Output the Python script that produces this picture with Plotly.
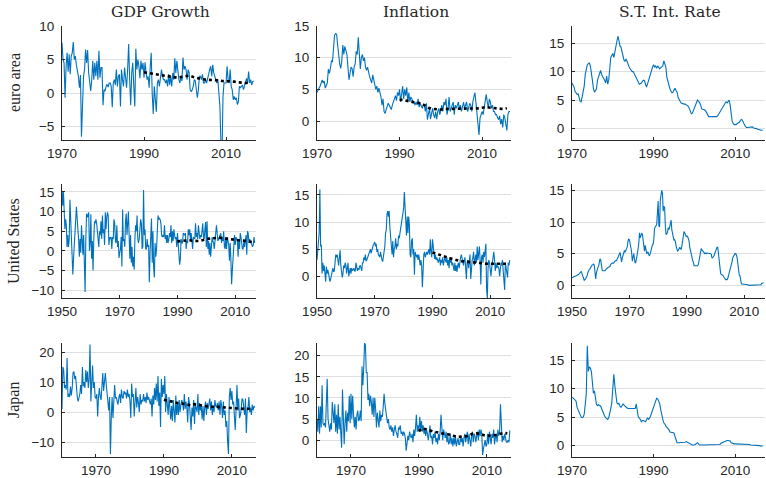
import numpy as np
import plotly.graph_objects as go

# ---------------- data (quarterly) ----------------
EA_START = 1970
EA_GDP = [
 7.5, 5.0, 4.5, -0.7,  4.0, 6.0, 3.2, 5.8,  2.8, 5.5, 6.0, 7.6,  5.0, 5.5, 4.2, 3.5,  2.5, 0.8, 2.7, -6.5,
 -0.5, 2.5, 3.5, 6.5,  4.5, 6.4, 3.0, 1.0,  0.3, 2.0, 4.8, 2.0,  4.5, 2.5, 4.8, 2.0,  6.3, 2.3, 3.8, 3.8,
 -1.8, 0.5, 0.3, 1.0,  1.3, 0.9, 1.5, 1.5,  1.0, -2.1, 1.5, 2.0,  1.2, 3.5, 1.0, 2.5,  2.8, -2.0, 3.5, 2.0,
 1.0, 3.8, 2.5, 0.8,  3.5, 7.3, 2.0, -1.8,  3.0, 4.5, 1.0, -2.0,  6.6, 3.5, 5.0, 4.0,  2.2, 4.8, 3.5, 4.5,
 2.3, 4.6, 3.0, 2.0,  2.5, 0.8, 3.8, 6.0,  -0.2, -3.1, 1.0, -1.0,  -2.8, 1.5, 2.0, 1.0,  2.7, 3.5, 2.5, 2.0,
 2.0, 1.5, 2.0, 1.0,  2.8, 1.2, 2.5, 1.0,  3.0, 2.0, 5.2, 3.0,  4.8, 3.0, 2.0, 1.5,  2.5, 1.8, 5.3, 3.5,
 4.0, 3.5, 2.0, 3.5,  3.0, 0.5, 0.2, 0.5,  1.0, 2.0, 1.8, 0.5,  -0.7, 0.5, 2.5, 2.5,  2.0, 2.8, 1.5, 1.5,
 2.0, 1.5, 2.5, 2.8,  3.5, 4.0, 2.5, 4.2,  3.0, 2.5, 2.0, 1.5,  2.0, -1.0, -2.0, -7.5,  -10.0, -0.5, 1.5, 1.5,
 1.5, 4.0, 2.0, 1.5,  3.5, 1.0, 0.5, -1.0,  -0.5, -1.0, -0.7, -1.7,  -1.3, 1.0, 0.8, 1.0,  1.2, 0.5, 1.0, 1.5,
 2.2, 1.5, 3.2, 1.5,  2.0, 1.2, 1.7, 1.8,
]
EA_INF = [
 4.5, 5.0, 5.2, 5.5,  6.0, 6.5, 6.0, 6.3,  5.2, 5.8, 6.0, 8.2,  7.5, 8.3, 9.5, 9.4,  11.0, 13.5, 13.8, 13.7,
 12.0, 10.0, 9.0, 8.3,  9.5, 12.0, 10.5, 11.8,  10.8, 10.5, 8.5, 6.5,  7.5, 8.5, 8.3, 7.0,  8.5, 9.0, 11.0, 10.5,
 13.2, 11.0, 8.2, 10.0,  10.5, 9.5, 10.0, 8.5,  8.0, 8.5, 7.5, 7.0,  6.5, 6.0, 7.3, 6.5,  6.0, 5.0, 5.5, 4.5,
 5.2, 4.5, 3.8, 2.5,  3.5, 1.5, 1.2, 1.8,  2.2, 2.8, 2.5, 2.0,  1.8, 2.5, 3.0, 3.5,  4.0, 3.2, 4.5, 4.0,
 5.0, 3.0, 4.5, 5.5,  3.5, 5.0, 4.0, 5.3,  3.0, 4.5, 3.0, 3.8,  3.5, 2.8, 3.0, 2.5,  3.0, 2.5, 3.5, 2.2,
 2.8, 2.5, 2.0, 2.5,  2.5, 1.5, 2.8, 0.2,  1.5, 2.0, 0.3, 1.5,  2.0, 1.0, 0.5, 1.5,  0.3, 1.5, 2.0, 1.0,
 2.0, 2.5, 1.5, 3.0,  2.5, 3.5, 1.0, 2.0,  3.8, 1.5, 2.0, 2.5,  3.0, 1.0, 2.5, 2.0,  2.5, 3.0, 1.8, 2.5,
 1.5, 2.5, 3.0, 2.0,  2.5, 3.0, 1.5, 2.0,  2.8, 2.5, 1.5, 3.0,  4.0, 4.5, 3.0, 1.0,  -1.0, -2.2, 0.5, 1.0,
 1.5, 1.0, 2.0, 2.5,  4.2, 3.0, 2.0, 3.5,  3.0, 2.0, 2.5, 1.5,  1.5, 1.0, 1.0, 0.5,  0.2, 0.8, -0.5, 0.3,
 -1.0, 1.0, 0.5, -0.5,  -1.5, 1.0, 1.5, 1.5,
]
EA_RATE = [
 8.0, 7.7, 7.3, 6.5,  6.2, 6.0, 6.1, 5.2,  4.8, 4.7, 5.5, 6.5,  7.5, 9.5, 10.5, 11.2,  11.4, 11.5, 11.0, 10.0,
 8.5, 7.0, 6.4, 6.7,  7.0, 8.5, 9.2, 9.5,  10.2, 9.5, 9.2, 9.0,  8.5, 8.0, 9.2, 7.8,  8.5, 10.5, 12.5, 12.8,
 13.2, 12.5, 13.5, 13.8,  15.0, 16.2, 15.5, 14.5,  14.3, 13.5, 12.8, 12.0,  11.8, 12.2, 11.8, 11.2,  10.8, 10.5, 10.2, 10.0,
 10.0, 9.6, 9.2, 8.7,  8.5, 8.1, 7.8, 7.9,  8.0, 8.3, 8.5, 8.4,  7.6, 7.3, 7.8, 8.5,  9.0, 9.5, 10.2, 10.8,
 11.2, 10.8, 11.0, 10.6,  11.0, 10.6, 10.5, 10.7,  10.8, 11.0, 11.9, 11.5,  10.8, 9.0, 8.2, 7.5,  7.0, 6.6, 6.3, 6.4,
 6.8, 7.1, 6.7, 6.4,  5.5, 5.0, 4.8, 4.5,  4.4, 4.4, 4.3, 4.3,  4.2, 4.1, 3.9, 3.5,  3.0, 2.6, 2.7, 3.2,
 3.6, 4.2, 4.7, 5.0,  4.8, 4.6, 4.2, 3.5,  3.4, 3.4, 3.3, 3.1,  2.7, 2.4, 2.1, 2.1,  2.1, 2.1, 2.1, 2.2,
 2.1, 2.1, 2.1, 2.3,  2.6, 2.9, 3.2, 3.6,  3.8, 4.1, 4.4, 4.7,  4.5, 4.9, 5.0, 4.2,  2.0, 1.3, 0.9, 0.7,
 0.7, 0.7, 0.9, 1.0,  1.1, 1.4, 1.6, 1.5,  1.0, 0.7, 0.4, 0.2,  0.2, 0.2, 0.2, 0.2,  0.3, 0.3, 0.1, 0.1,
 0.0, 0.0, -0.1, -0.1,  -0.2, -0.3, -0.3, -0.3,
]

US_START = 1950
US_GDP = [
 15.0, 11.5, 15.2, 9.0,  5.5, 8.0, 6.5, 1.0,  4.0, 1.0, 3.0, 13.0,  7.5, 3.0, -1.5, -6.0,  -2.0, 0.5, 4.5, 8.0,
 11.2, 6.5, 5.5, 3.0,  -1.5, 3.0, -0.5, 6.5,  3.5, -1.0, 4.0, -4.0,  -10.5, 3.0, 9.5, 8.5,  9.0, 9.8, 0.0, 2.0,
 9.3, -2.0, 2.5, -5.0,  2.5, 7.5, 7.0, 8.0,  7.0, 4.0, 3.5, 1.0,  5.0, 4.0, 7.5, 3.0,  9.0, 4.5, 5.5, 1.5,
 9.8, 5.5, 8.5, 9.8,  9.0, 1.5, 3.5, 3.0,  3.5, 0.5, 3.5, 3.0,  8.0, 7.0, 2.5, 2.0,  6.5, 1.0, 2.5, -1.8,
 -0.5, 0.5, 3.5, -4.0,  10.5, 2.5, 3.0, 1.0,  7.5, 9.5, 4.0, 7.0,  10.0, 4.0, -2.0, 4.0,  -3.0, 1.0, -4.0, -1.5,
 -4.8, 3.0, 6.5, 5.0,  9.0, 3.0, 2.0, 3.0,  5.0, 8.0, 7.0, 0.5,  1.0, 15.5, 4.0, 5.5,  0.5, 0.5, 3.0, 1.0,
 1.5, -8.0, -0.5, 7.5,  8.2, -3.0, 5.0, -4.5,  -6.8, 2.0, -1.5, 0.5,  5.0, 9.0, 8.0, 8.3,  8.0, 7.0, 4.0, 3.5,
 4.0, 3.5, 6.5, 3.0,  4.0, 2.0, 4.0, 2.0,  3.0, 4.5, 3.5, 6.5,  2.0, 5.0, 2.5, 5.5,  4.0, 3.0, 3.5, 1.0,
 4.5, 1.5, 0.0, -3.5,  -2.0, 3.0, 2.0, 2.0,  4.5, 4.0, 4.0, 4.5,  0.5, 2.5, 2.0, 5.5,  4.0, 5.5, 2.5, 4.5,
 1.0, 0.5, 3.5, 3.0,  3.0, 7.0, 3.5, 4.5,  3.0, 6.5, 5.0, 3.0,  4.0, 3.5, 5.0, 7.0,  3.5, 3.0, 5.5, 7.3,
 1.0, 7.5, 0.5, 2.5,  -1.0, 2.0, -1.5, 1.0,  3.5, 2.5, 2.0, 0.5,  2.0, 3.5, 6.5, 4.5,  2.5, 3.0, 3.5, 3.5,
 4.5, 2.0, 3.5, 2.5,  5.0, 1.0, 0.5, 3.5,  0.5, 3.5, 2.5, 1.5,  -2.5, 2.0, -2.0, -8.5,  -5.0, -0.5, 1.5, 4.0,
 1.5, 3.5, 3.0, 2.5,  -1.5, 3.0, 0.5, 4.5,  3.5, 1.5, 0.5, 0.5,  2.5, 1.0, 3.0, 4.0,  -1.0, 5.0, 4.5, 2.0,
 3.0, 2.5, 2.0, 1.0,  1.0, 1.5, 3.5, 2.0,
]
US_INF = [
 3.0, 5.0, 7.5, 8.0,  16.0, 5.5, 5.8, 0.5,  2.5, 1.0, 2.0, 0.5,  -1.0, 1.8, 0.5, 1.2,  0.5, 0.0, -1.0, -0.5,
 0.0, 0.5, 1.5, 0.8,  1.0, 2.5, 4.0, 3.5,  4.0, 3.0, 2.0, 3.5,  4.8, 2.0, 1.0, -0.2,  0.5, 2.0, 1.5, 2.5,
 2.0, 0.5, 1.5, 2.5,  0.0, 1.0, 1.5, 0.5,  1.5, 1.0, 1.2, 1.5,  1.0, 1.0, 2.5, 1.5,  1.0, 1.5, 1.2, 1.8,
 2.0, 1.5, 1.0, 2.5,  2.5, 3.5, 3.0, 4.0,  2.8, 3.0, 3.5, 4.0,  4.0, 4.5, 5.0, 4.2,  5.0, 5.5, 5.8, 6.0,
 6.3, 5.5, 6.0, 4.5,  5.0, 4.0, 3.5, 3.5,  4.5, 3.5, 3.0, 2.7,  3.5, 4.5, 5.5, 8.0,  8.5, 11.5, 12.0, 11.0,
 12.0, 9.0, 6.5, 5.5,  4.0, 6.5, 3.5, 5.0,  5.5, 7.0, 5.0, 6.0,  5.5, 7.5, 7.0, 8.0,  9.0, 9.5, 11.5, 12.5,
 12.5, 15.5, 12.0, 10.0,  7.5, 11.0, 8.0, 11.0,  9.5, 4.0, 3.5, 6.5,  7.0, 4.0, 5.0, 0.3,  4.5, 4.0, 3.5, 4.0,
 3.0, 4.0, 2.5, 2.0,  3.0, 2.0, -2.0, 2.5,  4.0, 4.5, 3.5, 4.0,  4.5, 4.0, 4.5, 5.0,  4.0, 6.8, 4.5, 3.5,
 6.8, 5.0, 5.0, 3.2,  4.0, 3.0, 3.5, 2.5,  2.5, 3.0, 3.5, 2.0,  3.0, 2.5, 3.5, 2.0,  2.5, 3.5, 3.0, 2.5,
 3.5, 2.0, 3.0, 1.5,  3.5, 2.5, 3.0, 2.0,  2.5, 2.0, 1.0, 2.5,  1.0, 2.0, 0.8, 2.0,  2.5, 1.5, 3.0, 3.5,
 4.0, 3.5, 2.5, 2.0,  3.0, 3.5, 1.5, -0.5,  2.5, 3.0, 1.5, 3.0,  4.0, -0.5, 2.5, 3.0,  3.5, 4.5, 2.0, 3.5,
 4.0, 2.5, 5.5, 3.0,  4.5, 5.5, 3.0, -1.5,  3.5, 4.0, 2.5, 4.5,  3.5, 5.0, 6.0, -2.5,  -4.0, 1.5, 3.0, 2.5,
 1.5, 0.0, 1.5, 3.0,  4.0, 4.5, 3.0, 1.0,  2.5, 1.5, 2.0, 1.5,  1.5, 0.0, 2.0, 2.5,  2.0, 3.0, 1.0, -0.5,
 -2.5, 2.5, 1.5, 0.5,  -0.2, 2.5, 2.0, 3.0,
]
US_RATE = [
 1.2, 1.2, 1.3, 1.4,  1.4, 1.5, 1.5, 1.6,  1.6, 1.7, 1.8, 1.9,  2.0, 2.2, 1.8, 1.4,  1.0, 0.8, 0.9, 1.0,
 1.3, 1.5, 2.0, 2.4,  2.5, 2.6, 2.8, 3.1,  3.2, 3.2, 3.4, 3.2,  1.6, 1.0, 2.0, 2.7,  2.8, 3.0, 3.5, 4.2,
 4.0, 3.0, 2.4, 2.3,  2.3, 2.3, 2.3, 2.5,  2.7, 2.7, 2.8, 2.9,  2.9, 3.0, 3.3, 3.5,  3.5, 3.5, 3.5, 3.7,
 3.9, 3.9, 3.9, 4.2,  4.6, 4.6, 5.0, 5.2,  4.5, 3.7, 4.3, 4.8,  5.0, 5.5, 5.2, 5.5,  6.0, 6.1, 7.0, 7.3,
 7.2, 6.6, 6.2, 5.3,  3.8, 4.2, 5.0, 4.2,  3.5, 3.7, 4.2, 4.9,  5.7, 6.6, 8.3, 7.5,  8.0, 8.2, 8.1, 7.3,
 5.9, 5.4, 6.3, 5.6,  5.0, 5.2, 5.2, 4.8,  4.7, 5.0, 5.5, 6.2,  6.4, 6.5, 7.3, 9.0,  9.4, 9.4, 9.6, 11.8,
 13.3, 9.4, 9.2, 13.5,  14.2, 15.0, 14.5, 11.7,  12.5, 12.3, 9.4, 8.0,  8.1, 8.4, 9.1, 8.8,  9.2, 9.8, 10.3, 8.8,
 8.2, 7.5, 7.1, 7.2,  6.9, 6.2, 5.6, 5.4,  5.5, 5.7, 6.0, 5.8,  5.7, 6.2, 7.0, 7.6,  8.5, 8.3, 7.8, 7.7,
 7.8, 7.7, 7.4, 7.0,  6.0, 5.6, 5.3, 4.5,  3.9, 3.7, 3.1, 3.1,  3.0, 3.0, 3.0, 3.1,  3.3, 4.0, 4.5, 5.3,
 5.8, 5.6, 5.4, 5.3,  5.0, 5.0, 5.1, 5.0,  5.1, 5.1, 5.1, 5.1,  5.1, 5.0, 4.9, 4.3,  4.4, 4.5, 4.7, 5.1,
 5.5, 5.7, 6.0, 6.0,  4.9, 3.7, 3.2, 1.9,  1.7, 1.7, 1.6, 1.4,  1.2, 1.1, 0.9, 0.9,  0.9, 1.1, 1.5, 2.0,
 2.5, 2.9, 3.4, 3.8,  4.4, 4.7, 4.9, 5.0,  5.0, 4.8, 4.3, 3.4,  2.0, 1.6, 1.5, 0.3,  0.2, 0.2, 0.2, 0.1,
 0.1, 0.1, 0.2, 0.1,  0.1, 0.1, 0.0, 0.0,  0.1, 0.1, 0.1, 0.1,  0.1, 0.1, 0.0, 0.1,  0.0, 0.0, 0.0, 0.0,
 0.0, 0.0, 0.0, 0.1,  0.3, 0.3, 0.3, 0.4,
]

JP_START = 1960
JP_RATE_START = 1970
JP_GDP = [
 1.0, 15.0, 14.0, 8.0,  9.0, 7.5, 18.0, 5.0,  6.0, 5.0, 8.5, 5.5,  8.0, 13.0, 13.5, 11.0,  12.0, 7.0, 5.0, 3.5,
 4.5, 6.0, 9.0, 6.0,  15.0, 8.5, 10.0, 8.0,  14.0, 10.0, 13.5, 8.0,  11.0, 22.5, 3.5, 11.5,  15.5, 8.0, 10.0, 5.0,
 4.5, 6.0, -1.5, 5.0,  8.0, 5.0, 4.0, 8.5,  13.0, 7.0, 10.0, 13.0,  9.5, 7.0, 4.0, 0.5,  5.0, -14.0, -2.0, 5.0,
 -2.0, 3.0, 9.0, 4.5,  5.0, 3.5, 2.5, 5.0,  6.0, 3.0, 7.5, 5.0,  4.5, 7.0, 6.0, 6.5,  4.5, 7.5, 5.0, 6.0,
 3.5, -2.0, 9.5, 5.0,  6.0, -1.5, 5.5, 8.0,  1.5, 5.0, 3.0, 0.0,  6.0, 2.5, 4.0, 3.5,  6.0, 3.5, 5.0, 3.0,
 6.5, 4.0, 5.0, 3.0,  2.5, 4.5, -1.5, 5.5,  2.5, 8.0, 4.0, 9.5,  3.5, 12.0, 2.0, 6.5,  -5.0, 11.0, 5.0, 9.0,
 6.0, 12.0, 0.0, 6.0,  2.0, -1.0, 5.0, 2.0,  -2.5, 2.0, -3.0, 4.0,  0.5, -3.5, 5.5, -1.0,  3.0, -1.0, 4.0, 0.0,
 2.5, 4.0, 3.0, 0.5,  6.0, 1.0, 3.5, 1.5,  -3.5, 5.0, 3.0, -4.0,  -6.0, 1.5, -1.5, 4.0,  -4.0, 2.5, 1.0, 0.0,
 6.0, -1.0, 3.0, 0.5,  2.0, -2.5, 2.0, -3.0,  1.5, 3.5, -1.0, 3.0,  1.0, 2.5, 4.5, 0.5,  3.5, -1.0, 2.0, 0.0,
 4.0, 2.0, 1.5, 3.0,  0.5, 3.5, -1.0, 4.0,  2.0, -2.0, 3.5, -1.0,  0.5, -5.0, -3.0, -10.0,  -14.0, 5.0, 8.0, 4.0,
 7.0, 2.5, 3.5, -1.5,  -6.0, 1.5, 9.0, 0.5,  4.5, -2.0, -1.0, 1.0,  4.5, 4.0, 1.5, -1.0,  4.5, -7.0, 0.5, 1.5,
 5.0, 0.0, 1.5, -1.0,  2.5, 0.5, 2.0, 1.5,
]
JP_INF = [
 5.0, 2.0, 8.0, 1.5,  8.0, 3.0, 13.0, 4.0,  3.5, 4.0, 3.0, 7.0,  14.5, 5.0, 3.0, 2.0,  4.0, 2.5, 9.0, 5.0,
 4.0, 8.5, 2.0, 6.0,  1.5, 8.5, 2.5, 5.5,  1.0, -1.8, 12.0, 6.0,  -1.0, 4.0, 7.0, 2.0,  6.5, 4.5, 10.5, 4.0,
 11.0, 5.0, 10.5, 6.0,  3.0, 5.5, 2.5, 6.0,  7.0, 4.5, 5.0, 7.0,  4.5, 17.5, 13.0, 17.0,  23.0, 22.5, 16.0, 16.0,
 9.5, 11.0, 8.0, 10.5,  9.0, 6.0, 10.0, 5.5,  10.0, 7.5, 3.0, 6.5,  5.0, 3.0, 7.0, 4.5,  6.0, 5.5, 8.0, 11.0,
 8.5, 6.0, 5.5, 4.0,  5.0, 3.0, 2.5, 3.5,  2.0, 3.0, 1.0, 2.5,  3.5, 2.0, 1.5, 0.5,  3.0, 2.5, 3.5, 1.5,
 2.0, 1.0, 2.0, 1.5,  0.5, -2.5, 0.5, 1.0,  0.0, 2.0, 1.0, 0.5,  1.5, -0.5, 2.5, 1.0,  3.0, 6.0, 2.0, 3.5,
 2.0, 5.5, 2.5, 4.5,  2.0, 3.5, 1.5, 2.5,  1.0, 2.5, 1.5, 0.0,  1.5, 3.5, 0.5, 1.0,  -1.0, 1.5, 0.5, 2.0,
 -0.5, 0.5, -1.0, 1.5,  0.0, 2.0, 6.0, 1.0,  0.0, 2.5, 1.5, 0.5,  2.0, -0.5, 1.0, -1.0,  -0.5, 1.5, -1.0, 0.5,
 -1.5, 0.5, -1.0, 1.0,  -1.5, 0.0, 0.5, -1.0,  -1.0, 1.0, -0.5, 0.5,  -1.5, 0.5, 1.5, -0.5,  0.5, 2.0, -1.0, 1.5,
 0.0, -1.5, 1.0, 2.0,  -0.5, 1.5, 1.0, -0.5,  1.0, 2.0, 0.0, 2.5,  1.0, 2.5, 1.5, -3.5,  -2.0, -1.0, 0.0, -1.5,
 -1.0, 1.5, -1.0, 2.0,  0.5, -1.0, 1.5, 0.5,  2.5, -1.0, 0.5, 1.5,  -0.5, 2.5, 1.0, 2.0,  8.5, 1.0, -0.5, 1.0,
 0.0, 1.5, 0.5, -0.5,  -0.5, 0.0, -0.5, 2.3,
]
JP_RATE = [
 8.5, 8.4, 8.2, 8.0,  7.8, 6.7, 6.2, 5.8,  5.2, 5.0, 4.9, 5.0,  5.5, 7.0, 9.0, 17.5,  13.0, 13.8, 13.6, 13.0,
 11.0, 9.2, 9.6, 8.5,  7.2, 7.0, 7.2, 7.0,  7.0, 6.5, 6.0, 5.5,  5.2, 4.9, 4.7, 4.6,  4.9, 5.5, 6.5, 7.5,
 10.5, 12.5, 10.5, 9.0,  7.5, 7.3, 7.4, 6.9,  6.7, 7.0, 7.3, 7.1,  6.9, 6.8, 6.6, 6.5,  6.5, 6.5, 6.4, 6.4,
 6.4, 6.4, 6.5, 7.3,  6.0, 5.0, 4.8, 4.6,  4.2, 4.4, 4.4, 4.3,  4.2, 4.5, 4.9, 4.6,  4.8, 5.2, 5.8, 6.4,
 7.0, 7.4, 7.8, 8.3,  8.2, 7.8, 7.3, 6.3,  5.0, 4.6, 4.0, 3.8,  3.4, 3.2, 3.0, 2.8,  2.4, 2.3, 2.3, 2.3,
 2.2, 1.6, 0.8, 0.5,  0.5, 0.5, 0.5, 0.5,  0.5, 0.5, 0.6, 0.6,  0.7, 0.6, 0.5, 0.3,  0.2, 0.1, 0.1, 0.1,
 0.1, 0.2, 0.4, 0.5,  0.3, 0.1, 0.1, 0.1,  0.1, 0.1, 0.1, 0.1,  0.1, 0.1, 0.1, 0.1,  0.1, 0.1, 0.1, 0.1,
 0.1, 0.1, 0.1, 0.1,  0.1, 0.2, 0.4, 0.5,  0.6, 0.7, 0.8, 0.9,  0.9, 0.9, 0.9, 0.8,  0.5, 0.4, 0.3, 0.3,
 0.3, 0.3, 0.2, 0.2,  0.2, 0.2, 0.2, 0.2,  0.2, 0.2, 0.2, 0.2,  0.2, 0.2, 0.2, 0.1,  0.1, 0.1, 0.1, 0.1,
 0.1, 0.1, 0.1, 0.1,  0.0, -0.05, -0.1, -0.1,
]

# trend (annual, 1990-2016)
TREND_YEARS = list(range(1990, 2017))
EA_GDP_TREND = [3.1, 3.0, 2.9, 2.8, 2.7, 2.6, 2.5, 2.4, 2.3, 2.4, 2.5, 2.6, 2.4, 2.2, 2.1, 2.0, 2.0, 1.9, 1.9,
                1.8, 1.8, 1.7, 1.7, 1.6, 1.5, 1.5, 1.6]
EA_INF_TREND = [3.4, 3.3, 3.2, 3.1, 3.0, 2.8, 2.5, 2.1, 1.9, 1.8, 1.8, 1.9, 1.9, 1.9, 1.9, 1.9, 1.9, 1.9, 2.0,
                2.0, 2.1, 2.2, 2.1, 2.0, 2.0, 1.9, 2.0]
US_GDP_TREND = [2.4, 2.5, 2.6, 2.7, 2.7, 2.6, 2.5, 2.5, 2.6, 2.8, 3.0, 3.1, 3.2, 3.3, 3.3, 3.3, 3.2, 3.0, 2.9,
                2.8, 2.7, 2.7, 2.6, 2.6, 2.5, 2.3, 2.2]
US_INF_TREND = [4.4, 4.2, 4.0, 3.8, 3.7, 3.5, 3.3, 3.2, 3.0, 2.9, 2.8, 2.8, 2.7, 2.6, 2.6, 2.5, 2.5, 2.4, 2.3,
                2.3, 2.3, 2.3, 2.3, 2.3, 2.3, 2.3, 2.3]
JP_GDP_TREND = [4.1, 3.8, 3.5, 3.2, 3.0, 2.9, 2.6, 2.3, 2.2, 2.6, 2.4, 2.0, 1.9, 1.8, 1.8, 1.8, 1.7, 1.6, 1.5,
                1.4, 1.3, 1.2, 1.1, 1.0, 1.0, 1.1, 1.4]
JP_INF_TREND = [2.1, 2.8, 2.6, 2.3, 2.1, 1.9, 1.7, 1.5, 1.4, 1.3, 1.0, 0.8, 0.8, 0.8, 0.9, 1.2, 1.6, 1.6, 1.5,
                1.2, 1.0, 1.1, 1.1, 1.2, 1.5, 1.7, 1.6]

COL_TITLES = ["GDP Growth", "Inflation", "S.T. Int. Rate"]
ROW_LABELS = ["euro area", "United States", "Japan"]

# ---------------- figure ----------------
W, H = 766, 478
BLUE = "#0072BD"
AX = "#262626"
GRID = "#dfdfdf"
TICKFONT = dict(family="Liberation Sans, Arial, sans-serif", size=13.5, color=AX)


def px_x(p):
    return p / W


def px_y(p):
    return 1 - p / H


col_px = [(62, 256), (317, 511), (572, 765)]
row_px = [(26, 140), (184, 298), (343, 457)]

panels = [
    # row, col, values, start, trend, xrange, yrange, yticks, xticks
    (0, 0, EA_GDP, EA_START, EA_GDP_TREND, [1970, 2017.3], [-7, 10], [-5, 0, 5, 10], [1970, 1990, 2010]),
    (0, 1, EA_INF, EA_START, EA_INF_TREND, [1970, 2017.0], [-3, 15], [0, 5, 10, 15], [1970, 1990, 2010]),
    (0, 2, EA_RATE, EA_START, None, [1970, 2017.3], [-2, 18], [0, 5, 10, 15], [1970, 1990, 2010]),
    (1, 0, US_GDP, US_START, US_GDP_TREND, [1950, 2017.2], [-12, 17], [-10, -5, 0, 5, 10, 15], [1950, 1970, 1990, 2010]),
    (1, 1, US_INF, US_START, US_INF_TREND, [1950, 2017.2], [-4, 17], [0, 5, 10, 15], [1950, 1970, 1990, 2010]),
    (1, 2, US_RATE, US_START, None, [1950, 2017.2], [-2, 16], [0, 5, 10, 15], [1950, 1970, 1990, 2010]),
    (2, 0, JP_GDP, JP_START, JP_GDP_TREND, [1960, 2017.1], [-15, 23], [-10, 0, 10, 20], [1970, 1990, 2010]),
    (2, 1, JP_INF, JP_START, JP_INF_TREND, [1960, 2017.1], [-4, 23], [0, 5, 10, 15, 20], [1970, 1990, 2010]),
    (2, 2, JP_RATE, JP_RATE_START, None, [1970, 2017.3], [-2, 18], [0, 5, 10, 15], [1970, 1990, 2010]),
]

fig = go.Figure()
layout = {}
for k, (r, c, vals, start, trend, xr, yr, yt, xt) in enumerate(panels, start=1):
    xa = "x" if k == 1 else f"x{k}"
    ya = "y" if k == 1 else f"y{k}"
    xs = start + 0.25 * np.arange(len(vals))
    fig.add_trace(go.Scatter(x=xs, y=vals, mode="lines", xaxis=xa, yaxis=ya,
                             line=dict(color=BLUE, width=1.1), showlegend=False, hoverinfo="skip"))
    if trend is not None:
        fig.add_trace(go.Scatter(x=TREND_YEARS, y=trend, mode="lines", xaxis=xa, yaxis=ya,
                                 line=dict(color="black", width=2.6, dash="dot"),
                                 showlegend=False, hoverinfo="skip"))
    x0, x1 = col_px[c]
    t, b = row_px[r]
    common = dict(showline=True, linecolor=AX, linewidth=1, ticks="inside", ticklen=3,
                  tickcolor=AX, tickfont=TICKFONT, zeroline=False, automargin=False)
    layout["xaxis" if k == 1 else f"xaxis{k}"] = dict(
        domain=[px_x(x0), min(1.0, px_x(x1))], anchor=ya, range=xr, tickvals=xt, showgrid=False,
        ticklabelstandoff=1, **common)
    layout["yaxis" if k == 1 else f"yaxis{k}"] = dict(
        domain=[px_y(b), px_y(t)], anchor=xa, range=yr, tickvals=yt,
        showgrid=True, gridcolor=GRID, gridwidth=1, ticklabelstandoff=4, **common)

fig.update_layout(**layout)

annotations = []
for c, title in enumerate(COL_TITLES):
    x0, x1 = col_px[c]
    annotations.append(dict(text=title, x=px_x((x0 + x1) / 2 + 1.5), y=px_y(12), xref="paper", yref="paper",
                            showarrow=False, xanchor="center", yanchor="middle",
                            font=dict(family="DejaVu Serif, serif", size=15.5, color=AX)))
for r, lab in enumerate(ROW_LABELS):
    t, b = row_px[r]
    annotations.append(dict(text=lab, x=px_x(14), y=px_y((t + b) / 2), xref="paper", yref="paper",
                            showarrow=False, xanchor="center", yanchor="middle", textangle=-90,
                            font=dict(family="Liberation Serif, serif", size=16, color=AX)))

fig.update_layout(width=W, height=H,
                  margin=dict(l=0, r=0, t=0, b=0, pad=0, autoexpand=False),
                  paper_bgcolor="white", plot_bgcolor="white", annotations=annotations)

# remove the browser's default 8px body margin so the figure fills the window exactly
fig.write_html("out.html", config={"displayModeBar": False},
               post_script="document.body.style.margin='0';")
